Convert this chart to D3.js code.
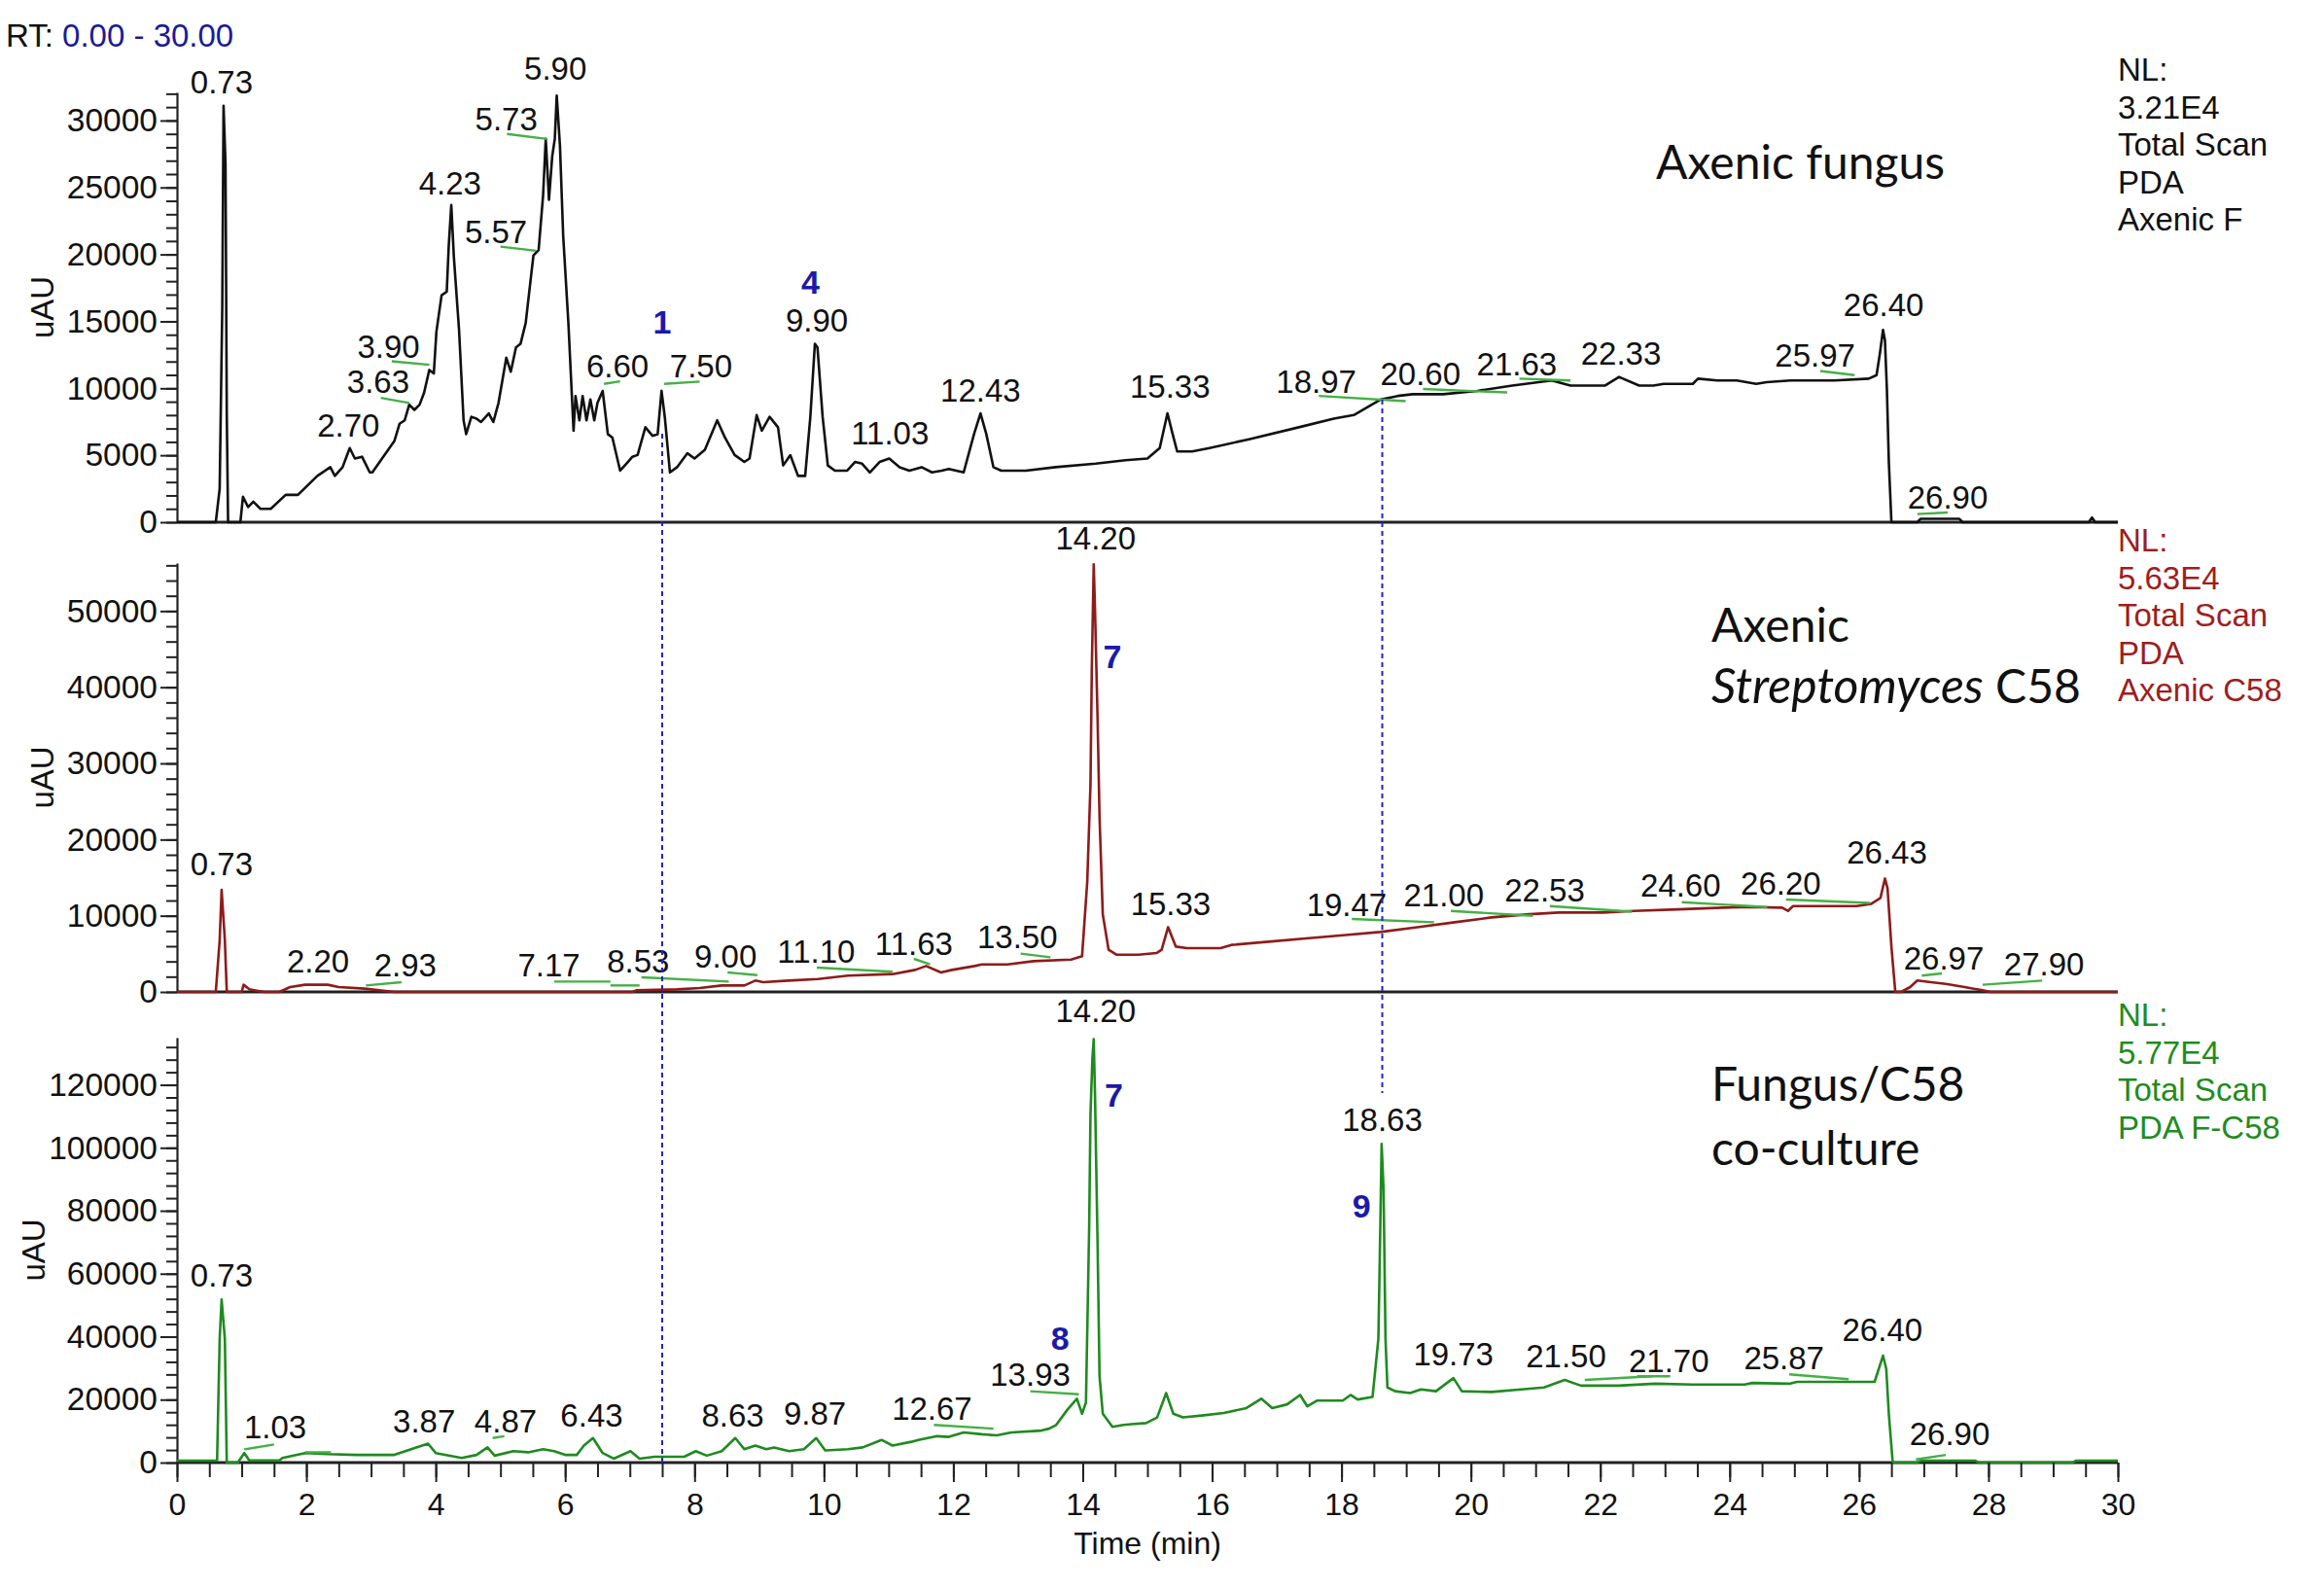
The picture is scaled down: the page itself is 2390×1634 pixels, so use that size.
<!DOCTYPE html>
<html>
<head>
<meta charset="utf-8">
<script src="https://cdn.jsdelivr.net/npm/d3@7"></script>
<style>
  body { margin: 0; background: #fff; }
  svg { display: block; }
</style>
</head>
<body>
<div id="chart"></div>
<script>
// ---- data: [time (min), intensity (uAU)] ----
const fungusTrace = [
  [0,0],[0.6,0],[0.66,2500],[0.70,16000],[0.72,31100],[0.75,26800],[0.77,8000],[0.79,0],[0.98,0],[1.02,1900],[1.10,1130],[1.18,1530],
  [1.29,1000],[1.45,1000],[1.68,2040],[1.87,2040],[2.17,3460],[2.37,4110],[2.44,3460],[2.56,4110],[2.67,5540],
  [2.75,4760],[2.86,4890],[2.98,3720],[3.02,3720],[3.17,4760],[3.36,6060],[3.44,7350],[3.52,7610],[3.59,8780],
  [3.67,8390],[3.75,8780],[3.82,9680],[3.90,11370],[3.97,11110],[4.01,14230],[4.09,16950],[4.17,17210],
  [4.20,20580],[4.24,23690],[4.28,19800],[4.36,14360],[4.43,7610],[4.47,6580],[4.55,7870],[4.63,7740],
  [4.70,7480],[4.82,8130],[4.89,7480],[4.97,8910],[5.09,12280],[5.16,11240],[5.24,13060],[5.31,13320],
  [5.39,14880],[5.47,18250],[5.51,19930],[5.59,20320],[5.66,24470],[5.70,28620],[5.75,24080],[5.80,27320],
  [5.84,28620],[5.87,31860],[5.92,28100],[5.97,21360],[6.05,14880],[6.13,6840],[6.16,9420],[6.22,7610],
  [6.27,9420],[6.33,7610],[6.39,9170],[6.45,7610],[6.50,8910],[6.58,9800],[6.66,6580],[6.73,6320],[6.85,3850],
  [6.97,4500],[7.04,4890],[7.12,5020],[7.24,7090],[7.35,6450],[7.43,6580],[7.49,9810],[7.54,7870],[7.62,3720],
  [7.73,4110],[7.89,5150],[8.00,4760],[8.16,5410],[8.35,7610],[8.47,6320],[8.62,5020],[8.77,4500],[8.85,4760],
  [8.96,8000],[9.04,6840],[9.16,7870],[9.29,7090],[9.37,4240],[9.48,5010],[9.60,3460],[9.71,3460],[9.79,7870],
  [9.86,13320],[9.90,13060],[9.98,7870],[10.06,4240],[10.17,3850],[10.36,3850],[10.48,4500],[10.59,4370],
  [10.71,3720],[10.86,4500],[11.01,4760],[11.17,4110],[11.32,3850],[11.51,4110],[11.67,3720],[11.82,3850],
  [11.93,3980],[12.16,3720],[12.32,6580],[12.42,8130],[12.51,6580],[12.62,4110],[12.74,3850],[13.12,3850],
  [13.58,4110],[14.20,4370],[14.66,4630],[15.00,4760],[15.19,5540],[15.31,8130],[15.39,6580],[15.46,5280],
  [15.69,5280],[15.96,5540],[16.57,6190],[17.34,7090],[17.88,7740],[18.19,8000],[18.61,9170],[18.87,9430],
  [19.10,9560],[19.57,9560],[20.10,9810],[20.64,10200],[21.25,10590],[21.54,10200],[22.07,10200],[22.29,10850],
  [22.60,10200],[22.82,10200],[22.98,10330],[23.43,10330],[23.51,10720],[23.81,10590],[24.11,10590],
  [24.41,10330],[24.57,10460],[24.94,10590],[25.62,10590],[26.15,10720],[26.27,10980],[26.32,12540],
  [26.37,14360],[26.40,13580],[26.43,9950],[26.46,4500],[26.50,0],[26.90,0],[26.95,250],[27.55,250],
  [27.6,0],[29.55,0],[29.6,350],[29.65,0],[30,0]
];
const c58Trace = [
  [0,0],[0.60,0],[0.66,6800],[0.69,13390],[0.74,6800],[0.77,0],[1.0,0],[1.03,940],[1.12,340],[1.23,170],
  [1.35,0],[1.58,0],[1.75,640],[1.98,940],[2.33,940],[2.50,640],[2.90,430],[3.36,0],[7.04,0],[7.10,210],
  [7.73,340],[8.08,510],[8.42,850],[8.77,850],[8.94,1490],[9.06,1280],[9.45,1490],[9.91,1700],[10.37,2130],
  [11.06,2340],[11.41,2890],[11.58,3400],[11.81,2550],[11.98,2890],[12.33,3400],[12.44,3610],[12.84,3610],
  [13.24,4040],[13.82,4250],[13.99,4680],[14.07,14460],[14.12,27210],[14.14,42100],[14.17,56130],[14.19,50170],
  [14.23,35720],[14.26,22960],[14.31,10200],[14.40,5530],[14.52,4890],[14.86,4890],[15.14,5100],[15.22,5530],
  [15.32,8500],[15.44,5950],[15.61,5740],[16.13,5740],[16.30,6170],[16.87,6590],[17.45,7020],[18.02,7440],
  [18.60,7870],[19.17,8500],[19.75,9140],[20.32,9780],[20.90,10200],[21.36,10420],[22.05,10420],[22.51,10630],
  [23.20,10840],[23.89,11060],[24.35,11140],[24.81,11060],[24.90,10630],[24.98,11270],[25.50,11270],
  [25.96,11270],[26.19,11570],[26.33,12330],[26.40,14880],[26.44,13610],[26.50,5950],[26.56,0],[26.65,0],
  [26.79,640],[26.90,1490],[27.11,1280],[27.34,1060],[27.63,640],[27.91,210],[28.03,0],[30,0]
];
const cocultureTrace = [
  [0,600],[0.62,600],[0.66,39300],[0.69,51800],[0.74,39300],[0.77,0],[0.94,0],[1.04,3030],[1.12,650],
  [1.58,650],[1.63,1490],[1.98,3030],[2.32,2680],[2.78,2440],[3.36,2440],[3.53,3630],[3.88,6010],[4.00,3030],
  [4.40,1490],[4.63,2440],[4.80,4820],[4.91,2200],[5.20,3630],[5.43,3270],[5.66,4230],[5.83,3630],[6.00,2440],
  [6.18,2440],[6.29,5410],[6.43,7790],[6.58,3030],[6.75,1250],[7.01,3630],[7.15,1250],[7.38,1840],[7.84,1840],
  [8.02,3630],[8.19,2200],[8.42,3630],[8.63,7790],[8.77,4230],[8.94,5410],[9.11,4230],[9.23,4820],[9.46,3630],
  [9.69,4230],[9.88,7790],[10.02,3870],[10.37,4230],[10.60,4820],[10.89,7200],[11.06,5410],[11.35,6600],
  [11.46,7200],[11.75,8390],[11.93,8150],[12.16,9580],[12.44,8990],[12.67,8630],[12.90,9580],[13.36,10170],
  [13.48,10770],[13.59,11960],[13.76,16720],[13.91,20290],[13.99,15530],[14.05,19100],[14.10,75040],
  [14.12,110740],[14.15,128600],[14.17,134500],[14.19,116690],[14.23,69080],[14.26,27430],[14.31,15530],
  [14.46,11360],[14.63,11960],[14.75,12200],[14.98,12560],[15.15,14340],[15.29,22070],[15.40,15530],
  [15.55,14340],[15.84,14940],[16.18,15770],[16.53,17320],[16.76,20290],[16.93,17320],[17.16,18500],
  [17.36,21480],[17.47,17900],[17.62,19690],[18.02,19690],[18.14,21480],[18.25,20050],[18.48,20880],
  [18.57,39330],[18.60,75040],[18.62,101220],[18.65,86930],[18.68,39330],[18.71,23860],[18.83,22670],
  [19.06,22070],[19.23,23270],[19.46,22670],[19.73,26830],[19.86,22670],[20.32,22430],[20.78,23270],
  [21.13,23860],[21.45,26240],[21.70,24450],[22.28,24450],[22.85,25050],[23.43,24810],[24.23,24810],
  [24.35,25290],[24.92,25050],[25.04,25640],[26.24,25640],[26.37,33970],[26.42,29810],[26.46,15530],
  [26.52,0],[26.9,0],[26.95,600],[27.8,600],[27.85,0],[29.3,0],[29.35,600],[30,600]
];

// integration baselines (green): [t1, v1, t2, v2]
const fungusBaselines = [
  [3.15,9290,3.59,8910],[3.32,12020,3.90,11760],[5.00,20580,5.55,20270],[5.10,29000,5.72,28620],
  [6.60,10330,6.85,10520],[7.53,10330,8.08,10500],[17.65,9430,18.99,9040],[19.26,9950,20.56,9690],
  [20.75,10720,21.54,10590],[25.40,11290,25.93,10980],[26.90,610,27.37,730]
];
const c58Baselines = [
  [2.92,850,3.47,1280],[5.83,1360,6.70,1360],[6.70,850,7.15,850],[7.18,1910,8.53,1360],[8.51,2550,8.97,2210],
  [9.89,3190,11.06,2640],[11.39,4340,11.64,3610],[13.04,5020,13.50,4550],[18.16,9570,19.43,9140],
  [19.69,10630,20.96,9990],[21.22,11270,22.49,10540],[23.26,11780,24.58,11140],[24.87,12120,26.17,11690],
  [26.97,2130,27.28,2420],[27.91,940,28.83,1490]
];
const cocultureBaselines = [
  [1.04,4200,1.50,5770],[1.98,3270,2.38,3270],[4.88,7790,5.06,8390],[11.70,11960,12.62,10770],
  [13.19,22670,13.94,21720],[21.76,26240,22.80,27430],[22.57,27430,23.08,27430],[24.92,28030,25.84,26480],
  [26.88,1010,27.34,2440]
];

// peak labels: [text, time at label centre, intensity at label baseline]
const fungusLabels = [
  ["0.73",0.69,32040],["2.70",2.65,6370],["3.63",3.11,9690],["3.90",3.27,12270],["4.23",4.22,24470],
  ["5.57",4.93,20840],["5.73",5.09,29260],["5.90",5.85,33030],["6.60",6.81,10850],["7.50",8.10,10850],
  ["9.90",9.89,14230],["11.03",11.02,5800],["12.43",12.42,9040],["15.33",15.35,9300],["18.97",17.61,9690],
  ["20.60",19.22,10220],["21.63",20.71,10980],["22.33",22.32,11760],["25.97",25.32,11630],
  ["26.40",26.38,15390],["26.90",27.37,1000]
];
const c58Labels = [
  ["0.73",0.69,15310],["2.20",2.18,2550],["2.93",3.53,2040],["7.17",5.75,2040],["8.53",7.13,2550],
  ["9.00",8.48,3190],["11.10",9.88,3830],["11.63",11.39,4890],["13.50",12.99,5740],["14.20",14.20,58040],
  ["15.33",15.36,10080],["19.47",18.08,9990],["21.00",19.58,11270],["22.53",21.14,11820],["24.60",23.24,12540],
  ["26.20",24.79,12760],["26.43",26.43,16800],["26.97",27.31,2980],["27.90",28.86,2130]
];
const cocultureLabels = [
  ["0.73",0.69,56000],["1.03",1.52,7790],["3.87",3.82,9580],["4.87",5.08,9580],["6.43",6.41,11360],
  ["8.63",8.59,11360],["9.87",9.86,11960],["12.67",11.67,13740],["13.93",13.19,24450],["14.20",14.20,139900],
  ["18.63",18.63,105370],["19.73",19.73,31000],["21.50",21.47,30400],["21.70",23.06,28620],
  ["25.87",24.84,29810],["26.40",26.36,38740],["26.90",27.40,5410]
];

// compound numbers (blue)
const fungusCompounds = [["1",7.50,14100],["4",9.79,17100]];
const c58Compounds = [["7",14.46,42520]];
const cocultureCompounds = [["7",14.48,113120],["8",13.65,35760],["9",18.31,78000]];

const panelNames = [["Axenic fungus"], ["Axenic", "Streptomyces C58"], ["Fungus/C58", "co-culture"]];
const nlTexts = [
  ["NL:", "3.21E4", "Total Scan", "PDA", "Axenic F"],
  ["NL:", "5.63E4", "Total Scan", "PDA", "Axenic C58"],
  ["NL:", "5.77E4", "Total Scan", "PDA F-C58"]
];
const yMax = [32100, 56300, 135000];
const yMajorStep = [5000, 10000, 20000];
const yMinorStep = [1000, 2000, 4000];
const timeTicks = [0, 2, 4, 6, 8, 10, 12, 14, 16, 18, 20, 22, 24, 26, 28, 30];

// cross-panel markers: time, intensity in top panel, intensity in bottom panel
const markerLines = [[7.5, 6600, 0], [18.63, 9150, 117400]];

// ---- layout ----
const W = 2390, H = 1634;
const numFont = "'Liberation Sans', Arial, Helvetica, sans-serif";
const titleFont = "Lato, 'Open Sans', sans-serif";
const blue = "#1a1aaa";

const svg = d3.select("#chart").append("svg")
  .attr("width", W).attr("height", H)
  .style("background", "#fff");

const x = d3.scaleLinear([0, 30], [182, 2178]);

const panels = [
  { trace: fungusTrace, baselines: fungusBaselines, labels: fungusLabels, compounds: fungusCompounds,
    color: "#111", nlColor: "#111", base: 537, height: 442, titleX: 1703, titleY: [184] },
  { trace: c58Trace, baselines: c58Baselines, labels: c58Labels, compounds: c58Compounds,
    color: "#8e1b1b", nlColor: "#9e1e1e", base: 1020, height: 441, titleX: 1760, titleY: [660, 723] },
  { trace: cocultureTrace, baselines: cocultureBaselines, labels: cocultureLabels, compounds: cocultureCompounds,
    color: "#1f8a1f", nlColor: "#1e8c1e", base: 1504, height: 437, titleX: 1760, titleY: [1132, 1198] }
];

panels.forEach((p, i) => {
  const y = d3.scaleLinear([0, yMax[i]], [p.base, p.base - p.height]);
  p.y = y;
  const g = svg.append("g");

  // y axis: minor ticks then major labelled ticks
  const minor = d3.range(0, yMax[i] + 1, yMinorStep[i]);
  const major = d3.range(0, yMax[i] + 1, yMajorStep[i]);
  g.append("g")
    .attr("transform", `translate(${x(0)},0)`)
    .call(d3.axisLeft(y).tickValues(minor).tickSize(11).tickSizeOuter(0).tickFormat(""))
    .call(a => a.selectAll("line").attr("stroke", "#222").attr("stroke-width", 2))
    .call(a => a.select(".domain").attr("stroke", "#222").attr("stroke-width", 2.2));
  g.append("g")
    .attr("transform", `translate(${x(0)},0)`)
    .call(d3.axisLeft(y).tickValues(major).tickSize(17).tickPadding(3).tickSizeOuter(0).tickFormat(d3.format("d")))
    .call(a => a.select(".domain").remove())
    .call(a => a.selectAll("line").attr("stroke", "#222").attr("stroke-width", 2))
    .call(a => a.selectAll("text").attr("font-family", numFont).attr("font-size", 33.5).attr("fill", "#111"));

  g.append("text")
    .attr("transform", `translate(${i === 2 ? 34 : 43},${(p.base + p.base - p.height) / 2}) rotate(-90)`)
    .attr("text-anchor", "middle").attr("dy", "0.36em")
    .attr("font-family", numFont).attr("font-size", 33).attr("fill", "#111")
    .text("uAU");

  // baseline
  g.append("line")
    .attr("x1", x(0)).attr("x2", x(30)).attr("y1", y(0)).attr("y2", y(0))
    .attr("stroke", "#222").attr("stroke-width", 3);

  // trace
  const line = d3.line().x(d => x(d[0])).y(d => y(d[1]));
  g.append("path").datum(p.trace)
    .attr("d", line).attr("fill", "none")
    .attr("stroke", p.color).attr("stroke-width", 2.6).attr("stroke-linejoin", "round");

  // green integration marks
  g.selectAll(".bl").data(p.baselines).join("line")
    .attr("x1", d => x(d[0])).attr("y1", d => y(d[1]))
    .attr("x2", d => x(d[2])).attr("y2", d => y(d[3]))
    .attr("stroke", "#45b045").attr("stroke-width", 2.4);

  // peak labels
  g.selectAll(".pk").data(p.labels).join("text")
    .attr("x", d => x(d[1])).attr("y", d => y(d[2]))
    .attr("text-anchor", "middle")
    .attr("font-family", numFont).attr("font-size", 33).attr("fill", "#111")
    .text(d => d[0]);

  // compound numbers
  g.selectAll(".cp").data(p.compounds).join("text")
    .attr("x", d => x(d[1])).attr("y", d => y(d[2]))
    .attr("text-anchor", "middle")
    .attr("font-family", numFont).attr("font-weight", "bold").attr("font-size", 34).attr("fill", blue)
    .text(d => d[0]);

  // NL block
  g.selectAll(".nl").data(nlTexts[i]).join("text")
    .attr("x", 2178).attr("y", (d, k) => p.base - p.height - 12 + k * 38.5)
    .attr("font-family", numFont).attr("font-size", 33).attr("fill", p.nlColor)
    .text(d => d);

  // panel title
  panelNames[i].forEach((t, k) => {
    const tx = g.append("text")
      .attr("x", p.titleX).attr("y", p.titleY[k])
      .attr("font-family", titleFont).attr("font-size", 48).attr("fill", "#111");
    if (t.startsWith("Streptomyces")) {
      tx.append("tspan").attr("font-style", "italic").attr("font-size", 50).text("Streptomyces");
      tx.append("tspan").text(" C58");
    } else {
      tx.text(t);
    }
  });
});

// bottom time axis: minor ticks every 0.5 min, longer labelled ticks every 2 min
const bottomY = panels[2].base;
svg.append("g")
  .attr("transform", `translate(0,${bottomY})`)
  .call(d3.axisBottom(x).tickValues(d3.range(0, 30.01, 0.5)).tickSize(15).tickSizeOuter(0).tickFormat(""))
  .call(a => a.select(".domain").remove())
  .call(a => a.selectAll("line").attr("stroke", "#222").attr("stroke-width", 2));
svg.append("g")
  .attr("transform", `translate(0,${bottomY})`)
  .call(d3.axisBottom(x).tickValues(timeTicks).tickSize(20).tickPadding(11).tickSizeOuter(0).tickFormat(d3.format("d")))
  .call(a => a.select(".domain").remove())
  .call(a => a.selectAll("line").attr("stroke", "#222").attr("stroke-width", 2))
  .call(a => a.selectAll("text").attr("font-family", numFont).attr("font-size", 32).attr("fill", "#111"));

svg.append("text")
  .attr("x", x(15)).attr("y", 1598).attr("text-anchor", "middle")
  .attr("font-family", numFont).attr("font-size", 32).attr("fill", "#111")
  .text("Time (min)");

// RT range header
const rt = svg.append("text").attr("x", 6).attr("y", 48)
  .attr("font-family", numFont).attr("font-size", 33).attr("fill", "#111");
rt.append("tspan").text("RT: ");
rt.append("tspan").attr("fill", "#1a1a99").text("0.00 - 30.00");

// dashed blue markers linking the panels
svg.selectAll(".mk").data(markerLines).join("line")
  .attr("x1", d => x(d[0])).attr("x2", d => x(d[0]))
  .attr("y1", d => panels[0].y(d[1])).attr("y2", d => panels[2].y(d[2]))
  .attr("stroke", "#2222cc").attr("stroke-width", 2).attr("stroke-dasharray", "5,4");
</script>
</body>
</html>
